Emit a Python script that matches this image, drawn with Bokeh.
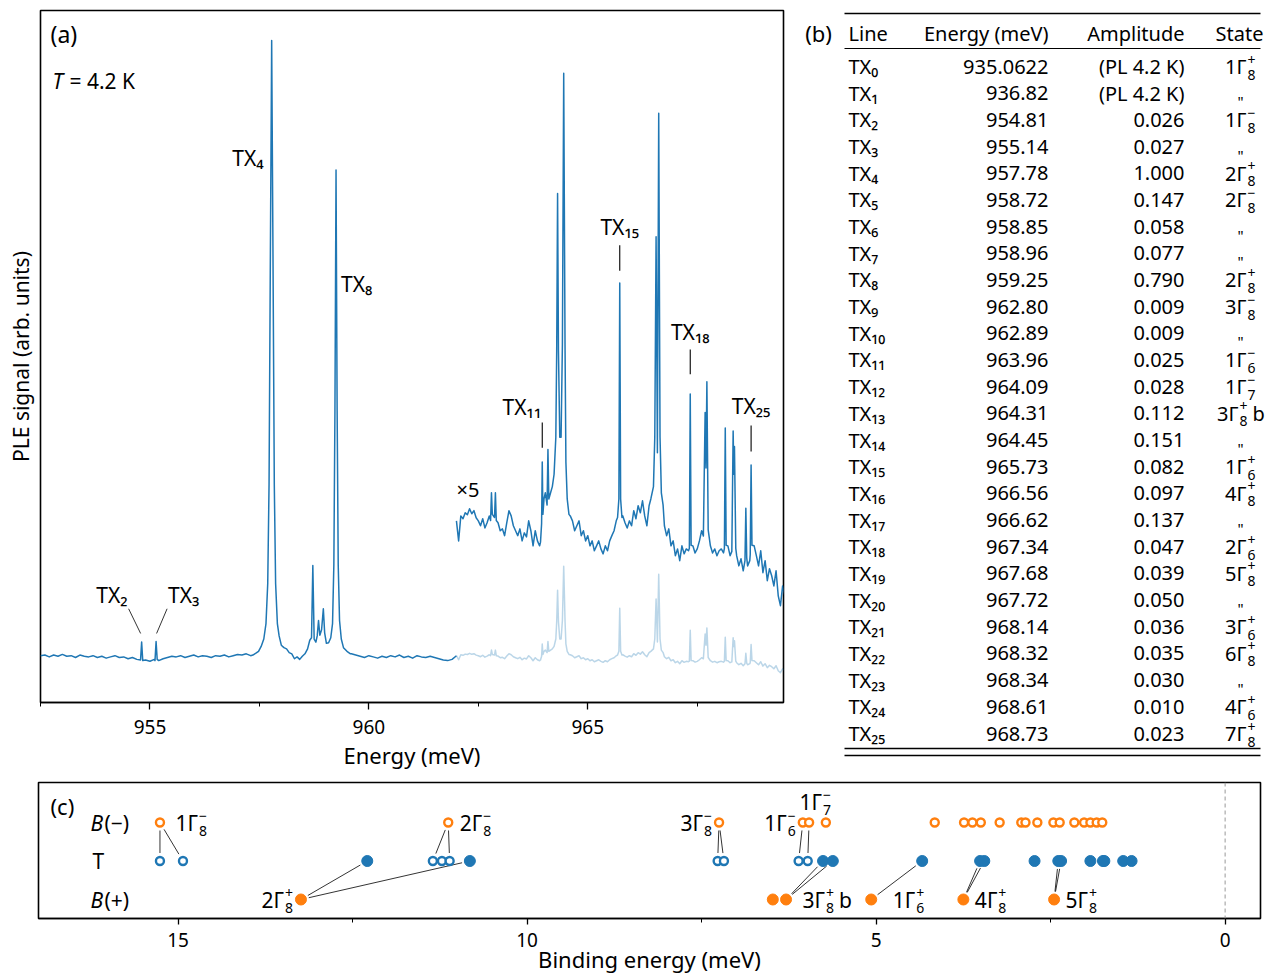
import numpy as np
from bokeh.plotting import figure
from bokeh.models import Range1d, FixedTicker, Span
from bokeh.layouts import column, row
from bokeh.embed import file_html
from bokeh.resources import INLINE
from bokeh.core.properties import value

FONT = "Noto Sans"
BLUE = "#1f77b4"
ORANGE = "#ff7f0e"

# ------------------------------------------------------------------ data
# (b) line table
line_energy_text = ["935.0622", "936.82", "954.81", "955.14", "957.78", "958.72", "958.85",
                    "958.96", "959.25", "962.80", "962.89", "963.96", "964.09", "964.31",
                    "964.45", "965.73", "966.56", "966.62", "967.34", "967.68", "967.72",
                    "968.14", "968.32", "968.34", "968.61", "968.73"]
line_amplitude_text = ["(PL 4.2 K)", "(PL 4.2 K)", "0.026", "0.027", "1.000", "0.147", "0.058",
                       "0.077", "0.790", "0.009", "0.009", "0.025", "0.028", "0.112", "0.151",
                       "0.082", "0.097", "0.137", "0.047", "0.039", "0.050", "0.036", "0.035",
                       "0.030", "0.010", "0.023"]
state_main = ["1Γ", "", "1Γ", "", "2Γ", "2Γ", "", "", "2Γ", "3Γ", "", "1Γ", "1Γ", "3Γ", "",
              "1Γ", "4Γ", "", "2Γ", "5Γ", "", "3Γ", "6Γ", "", "4Γ", "7Γ"]
state_sub = ["8", "", "8", "", "8", "8", "", "", "8", "8", "", "6", "7", "8", "",
             "6", "8", "", "6", "8", "", "6", "8", "", "6", "8"]
state_sup = ["+", "", "−", "", "+", "−", "", "", "+", "−", "", "−", "−", "+", "",
             "+", "+", "", "+", "+", "", "+", "+", "", "+", "+"]
state_suffix = [""] * 13 + ["b"] + [""] * 12
line_energy = [float(s) for s in line_energy_text]

# (a) PLE spectrum, signal in thousandths of the TX4 peak
bg_lo = [3, 4, 1, 4, 2, 5, 2, 3, 0, 4,
         2, 1, 3, 0, 2, -1, 1, 3, 0, 1,
         -2, 0, -3, -5, -4, -6, -3, -5, -2, 0,
         2, 1, 3, 0, 2, 4, 1, 3, 2, 0,
         3, 2, 4, 1, 3, 5, 4, 6, 3, 5,
         8, 10, 12, 14, 14, 12, 9, 6, 2, -2,
         2, 4, 14, 40, 40, 40, 30, 20, 15, 10,
         8, 6, 4, 2, 0, 3, 1, -1, 2, 0,
         3, 1, 4, 0, 2, -1, 3, 1, 0, 2,
         0, -2, -4, -5, -3]                      # 952.5 ... 961.9, step 0.1
bg_hi = [2.9, -3.6, 4.5, 3.6, 5.5, 4.9, 6.8, 5.2, 6.2, 3.9,
         2.9, 1.3, 3.6, 0.6, 2.3, 4.5, 7.8, 6.2, 9.4, 2.3,
         -0.3, 0.3, -1.9, 2.3, 6.2, 4.5, 1.3, -0.3, -1.9, 0.3,
         -3.6, -1.0, -2.3, 2.9, -0.3, -5.2, -0.3, -3.6, -5.2, 0.0,
         10, 10, 12, 12, 14, 20, 30, 30, 30, 30,
         20, 8, 4.5, 2.9, -0.3, 1.3, 2.9, -1.9, -0.3, -3.6,
         -1.9, -5.2, -3.6, -6.8, -5.2, -3.6, -6.2, -7.8, -5.2, -6.8,
         -3.6, -1.9, -0.3, 2.9, 5, 5, 4.5, 2.3, 0.6, 2.9,
         1.3, 6.2, 3.6, 7.8, 5.5, 9.4, 4.5, 1.3, 7.8, 10,
         14, 30, 30, 12, 8, 1.3, -1.9, 0.3, -5.2, -3.6,
         -8.4, -6.2, -10, -5.2, -7.8, -6.2, -6.8, -5, -5.2, -7.5,
         -6.2, -3.6, -0.3, -2, -2, -3.6, -5.2, -7.5, -6.2, -8.4,
         -6.8, -6.2, -7.5, -5, -5.2, -8.4, -7, -7, -8.4, -11.7,
         -9.4, -13.3, -10.7, -11.7, -10, -6, -5.2, -8.4, -11.7, -6.8,
         -13.9, -10, -16.5, -12.6, -14.9, -18.2, -13.3, -21.4, -24.6, -18.2,
         -21.4]                                   # 962.0 ... 969.5, step 0.05
peak_E = [
    [954.785, 954.81, 954.835],
    [955.115, 955.14, 955.165],
    [957.35, 957.42, 957.48, 957.54, 957.60, 957.65, 957.69, 957.72, 957.75, 957.78, 957.81,
     957.84, 957.87, 957.91, 957.95, 958.00, 958.06, 958.12, 958.18, 958.24, 958.30, 958.36, 958.42],
    [958.48, 958.54, 958.60, 958.65, 958.69, 958.72, 958.75, 958.79, 958.82, 958.85, 958.88,
     958.92, 958.96, 958.99, 959.03, 959.08, 959.13, 959.17, 959.20, 959.225, 959.25, 959.275,
     959.30, 959.33, 959.37, 959.42, 959.50, 959.58],
    [962.78, 962.80, 962.82, 962.87, 962.89, 962.91],
    [963.92, 963.945, 963.96, 963.975, 964.00, 964.03, 964.07, 964.09, 964.11, 964.15, 964.19,
     964.23, 964.27, 964.29, 964.31, 964.33, 964.36, 964.39, 964.42, 964.45, 964.48, 964.50,
     964.53, 964.57],
    [965.68, 965.71, 965.73, 965.75, 965.78],
    [966.44, 966.50, 966.53, 966.56, 966.59, 966.62, 966.65, 966.68, 966.72],
    [967.32, 967.34, 967.36],
    [967.64, 967.68, 967.70, 967.72, 967.75],
    [968.12, 968.14, 968.16],
    [968.29, 968.32, 968.335, 968.35, 968.38],
    [968.59, 968.61, 968.63],
    [968.71, 968.73, 968.75],
]
peak_S = [
    [-4, 25, -5],
    [-5, 26, -3],
    [4, 7, 10, 18, 30, 55, 120, 280, 650, 1000, 650, 280, 120, 55, 35, 20, 16, 14, 8, 6, -2, 1, -3],
    [2, 6, 14, 28, 32, 149, 30, 25, 35, 60, 36, 45, 79, 40, 23, 24, 32, 55, 150, 400, 790, 400,
     150, 60, 30, 16, 10, 6],
    [3, 12, 5, 4, 12, 3],
    [-4, 2, 22, 5, 10, 12, 8, 26, 10, 12, 14, 18, 30, 58, 109, 58, 30, 30, 60, 148, 60, 22, 10, 5],
    [4, 10, 80, 10, 4],
    [10, 14, 30, 95, 25, 135, 30, 12, 8],
    [-6, 44, -5],
    [-2, 38, 20, 48, 0],
    [-6, 33, -5],
    [-7, 32, 18, 27, -6],
    [-10, 7, -9],
    [-8, 21, -5],
]
x5_factor = 5
x5_offset = 207
split_energy = 962.0

# (c) binding energies (meV)
be_zero_energy = 970.07
b_minus_be = [15.26, 11.13, 7.25, 6.05, 5.96, 5.72, 4.16, 3.74, 3.62, 3.50, 3.23, 2.92, 2.86,
              2.69, 2.46, 2.37, 2.16, 2.02, 1.93, 1.84, 1.76]
b_plus_be = [13.24, 6.48, 6.29, 5.07, 3.75, 2.45]
minus_links = [(0, 2), (0, 3), (1, 5), (1, 7), (2, 9), (2, 10), (3, 11), (4, 12)]
plus_links = [(0, 4), (0, 8), (2, 13), (2, 14), (3, 15), (4, 16), (4, 17), (5, 19), (5, 20)]
minus_names = [(0, "1Γ", "8", "−", ""), (1, "2Γ", "8", "−", ""), (2, "3Γ", "8", "−", ""),
               (3, "1Γ", "6", "−", ""), (4, "1Γ", "7", "−", "")]
plus_names = [(0, "2Γ", "8", "+", ""), (2, "3Γ", "8", "+", "b"), (3, "1Γ", "6", "+", ""),
              (4, "4Γ", "8", "+", ""), (5, "5Γ", "8", "+", "")]
# label placement (px offset of the Γ-stack anchor from the marker, px raise)
minus_place = [(38, 0), (34, 0), (-16, 0), (-16, 0), (13, 21)]
plus_place = [(-17, 0), (39, 0), (44, 0), (34, 0), (34, 0)]

SUB = str.maketrans("0123456789", "₀₁₂₃₄₅₆₇₈₉")


def tx(i):
    return "TX" + str(i).translate(SUB)


def txt(p, x, y, s, size, align="left", xo=0, style="normal", baseline="middle", level="glyph"):
    p.text(x=[x], y=[y], text=[s], text_font=value(FONT), text_font_size=f"{size}px",
           text_align=align, text_baseline=baseline, x_offset=xo, text_font_style=style,
           text_color="black", level=level)


# ------------------------------------------------------------------ spectrum
E_bg = np.concatenate([952.5 + 0.1 * np.arange(len(bg_lo)),
                       962.0 + 0.05 * np.arange(len(bg_hi))])
S_bg = np.array(bg_lo + bg_hi, dtype=float)
keep = np.ones(len(E_bg), bool)
for g in peak_E:
    keep &= ~((E_bg >= g[0] - 1e-9) & (E_bg <= g[-1] + 1e-9))
E_all = np.concatenate([E_bg[keep]] + [np.array(g, float) for g in peak_E])
S_all = np.concatenate([S_bg[keep]] + [np.array(g, float) for g in peak_S])
o = np.argsort(E_all, kind="stable")
E_all, S_all = E_all[o], S_all[o]
lo = E_all <= split_energy + 1e-9
hi = E_all >= split_energy - 1e-9

# ------------------------------------------------------------------ panel (a)
XA0, XA1 = 952.5, 969.47
YA0, YA1 = -72.9, 1048.6
PXA = 743 / (XA1 - XA0)
pa = figure(width=790, height=772, x_range=Range1d(XA0, XA1), y_range=Range1d(YA0, YA1),
            output_backend="svg", toolbar_location=None,
            min_border_left=40, min_border_right=7, min_border_top=10, min_border_bottom=70)
pa.grid.visible = False
pa.outline_line_color = "black"
pa.outline_line_width = 1.6
pa.outline_line_alpha = 1.0
pa.background_fill_color = "white"
pa.border_fill_color = "white"
xa = pa.xaxis[0]
xa.ticker = FixedTicker(ticks=[955, 960, 965], minor_ticks=[952.5, 957.5, 962.5, 967.5])
xa.axis_label = "Energy (meV)"
ya = pa.yaxis[0]
ya.ticker = FixedTicker(ticks=[])
ya.axis_label = "PLE signal (arb. units)"
for ax in (xa, ya):
    ax.major_label_text_font = FONT
    ax.major_label_text_font_size = "19px"
    ax.axis_label_text_font = FONT
    ax.axis_label_text_font_size = "21px"
    ax.axis_label_text_font_style = "normal"
    ax.major_tick_in = 0
    ax.minor_tick_in = 0
    ax.axis_line_width = 1.6
    ax.major_label_text_color = "black"
    ax.axis_label_text_color = "black"
xa.axis_label_text_font_size = "22px"
xa.major_tick_out = 7
xa.minor_tick_out = 4
xa.major_tick_line_width = 1.3
xa.major_label_standoff = 10
xa.axis_label_standoff = 3
ya.major_tick_out = 0
ya.minor_tick_out = 0
ya.major_label_standoff = 0
ya.axis_label_standoff = 6
ya.axis_line_color = None
ya.major_label_text_font_size = "0px"

pa.line(E_all[hi], S_all[hi], color=BLUE, alpha=0.3, line_width=1.5, line_join="round")
pa.line(E_all[hi], x5_offset + x5_factor * S_all[hi], color=BLUE, line_width=1.5,
        line_join="round")
pa.line(E_all[lo], S_all[lo], color=BLUE, line_width=1.5, line_join="round")

txt(pa, XA0, 1011, "(a)", 23, xo=10)
txt(pa, XA0, 935, "T", 21, xo=12, style="italic")
txt(pa, XA0, 935, "= 4.2 K", 21, xo=29)
txt(pa, split_energy, 272, "×5", 20, xo=0)

peak_label_idx = [2, 3, 4, 8, 11, 15, 18, 25]
peak_label_y = [102, 102, 810, 606, 406, 698, 528, 408]
peak_label_align = ["right", "left", "right", "left", "right", "center", "center", "center"]
peak_label_xo = [-14, 12, -8, 5, -1, 0, 0, 0]
for i, y, al, xo in zip(peak_label_idx, peak_label_y, peak_label_align, peak_label_xo):
    txt(pa, line_energy[i], y, tx(i), 21, align=al, xo=xo)

tick_idx = [11, 15, 18, 25]
tick_top = [381, 668, 499, 376]
tick_bot = [340, 627, 459, 334]
pa.segment(x0=[line_energy[i] for i in tick_idx], y0=tick_top,
           x1=[line_energy[i] for i in tick_idx], y1=tick_bot, color="black", line_width=1.1)
pa.segment(x0=[line_energy[2] - 13 / PXA, line_energy[3] + 11 / PXA],
           y0=[79, 79],
           x1=[line_energy[2] - 1 / PXA, line_energy[3] + 0.5 / PXA],
           y1=[39, 39], color="black", line_width=0.8)

# ------------------------------------------------------------------ panel (b) table
# frame of this figure is aligned with panel (a): page y 10..702; data coords = page px
pb = figure(width=490, height=772, x_range=Range1d(790, 1280), y_range=Range1d(702, 10),
            output_backend="svg", toolbar_location=None, x_axis_location=None,
            y_axis_location=None, min_border_left=0, min_border_right=0,
            min_border_top=10, min_border_bottom=70)
pb.grid.visible = False
pb.outline_line_color = None
pb.background_fill_color = "white"
pb.border_fill_color = "white"

OV = "overlay"
ROW0, PITCH = 66.0, 26.68
row_y = [ROW0 + k * PITCH for k in range(26)]
FS = 20
X_LINE, X_EN, X_AMP, X_ST = 848, 1048, 1184, 1246
txt(pb, 818, 32, "(b)", 22, align="center", level=OV)
txt(pb, X_LINE, 33, "Line", FS, level=OV)
txt(pb, X_EN, 33, "Energy (meV)", FS, align="right", level=OV)
txt(pb, X_AMP, 33, "Amplitude", FS, align="right", level=OV)
txt(pb, 1263, 33, "State", FS, align="right", level=OV)
pb.segment(x0=[844] * 4, y0=[13, 48, 748, 755], x1=[1260] * 4, y1=[13, 48, 748, 755],
           color="black", line_width=[1.5, 1.0, 1.3, 1.3], level=OV)
pb.text(x=[X_LINE] * 26, y=row_y, text=[tx(k) for k in range(26)], text_font=value(FONT),
        text_font_size=f"{FS}px", text_baseline="middle", text_align="left", level=OV)
pb.text(x=[X_EN] * 26, y=row_y, text=line_energy_text, text_font=value(FONT),
        text_font_size=f"{FS}px", text_baseline="middle", text_align="right", level=OV)
pb.text(x=[X_AMP] * 26, y=row_y, text=line_amplitude_text, text_font=value(FONT),
        text_font_size=f"{FS}px", text_baseline="middle", text_align="right", level=OV)
for k in range(26):
    y = row_y[k]
    if state_main[k]:
        anchor = X_ST - 8 if state_suffix[k] else X_ST
        txt(pb, anchor, y, state_main[k], FS, align="right", level=OV)
        txt(pb, anchor + 1, y - 7, state_sup[k], 14, level=OV)
        txt(pb, anchor + 1, y + 8, state_sub[k], 14, level=OV)
        if state_suffix[k]:
            txt(pb, anchor + 14, y, state_suffix[k], FS, level=OV)
    else:
        txt(pb, X_ST - 6, y + 8, '"', 15, align="center", level=OV)

# ------------------------------------------------------------------ panel (c)
XC0, XC1 = 17.0, -0.507
PYC = 38.5
YC0, YC1 = -19 / PYC, 117 / PYC
PXC = 1222 / (XC0 - XC1)
pc = figure(width=1280, height=204, x_range=Range1d(XC0, XC1), y_range=Range1d(YC0, YC1),
            output_backend="svg", toolbar_location=None, y_axis_location=None,
            min_border_left=38, min_border_right=20, min_border_top=10, min_border_bottom=58)
pc.grid.visible = False
pc.outline_line_color = "black"
pc.outline_line_width = 1.6
pc.outline_line_alpha = 1.0
pc.background_fill_color = "white"
pc.border_fill_color = "white"
xc = pc.xaxis[0]
xc.ticker = FixedTicker(ticks=[15, 10, 5, 0], minor_ticks=[12.5, 7.5, 2.5])
xc.axis_label = "Binding energy (meV)"
xc.major_label_text_font = FONT
xc.major_label_text_font_size = "19px"
xc.axis_label_text_font = FONT
xc.axis_label_text_font_size = "22px"
xc.axis_label_text_font_style = "normal"
xc.major_tick_in = 0
xc.minor_tick_in = 0
xc.major_tick_out = 6
xc.minor_tick_out = 4
xc.major_tick_line_width = 1.3
xc.axis_line_width = 1.6
xc.major_label_standoff = 8
xc.axis_label_standoff = -6
xc.major_label_text_color = "black"
xc.axis_label_text_color = "black"

pc.add_layout(Span(location=0, dimension="height", line_color="#999999", line_dash="4 3",
                   line_width=1))

ROW_M, ROW_T, ROW_P = 2, 1, 0
t_be = [be_zero_energy - line_energy[k] for k in range(2, 26)]
parity = []
cur = ""
for s in state_sup:
    cur = s or cur
    parity.append(cur)
t_par = parity[2:]


def trimmed(xa_, ya_, xb, yb, gap=8.0):
    dx = (xb - xa_) * PXC
    dy = (yb - ya_) * PYC
    L = float(np.hypot(dx, dy))
    t = gap / L
    return (xa_ + t * (xb - xa_), ya_ + t * (yb - ya_),
            xb - t * (xb - xa_), yb - t * (yb - ya_))


segs = []
for bi, ti in minus_links:
    segs.append(trimmed(b_minus_be[bi], ROW_M, be_zero_energy - line_energy[ti], ROW_T))
for bi, ti in plus_links:
    segs.append(trimmed(b_plus_be[bi], ROW_P, be_zero_energy - line_energy[ti], ROW_T))
pc.segment(x0=[s[0] for s in segs], y0=[s[1] for s in segs], x1=[s[2] for s in segs],
           y1=[s[3] for s in segs], color="black", line_width=0.8)

tf = [b for b, p in zip(t_be, t_par) if p == "+"]
to = [b for b, p in zip(t_be, t_par) if p != "+"]
pc.scatter(x=tf, y=[ROW_T] * len(tf), size=11, color=BLUE)
pc.scatter(x=to, y=[ROW_T] * len(to), size=8, fill_color="white", line_color=BLUE,
           line_width=2.4)
pc.scatter(x=b_minus_be, y=[ROW_M] * len(b_minus_be), size=8, fill_color="white",
           line_color=ORANGE, line_width=2.4)
pc.scatter(x=b_plus_be, y=[ROW_P] * len(b_plus_be), size=11, color=ORANGE)


def gamma(p, x, y, main, sub, sup, anchor, suffix=""):
    txt(p, x, y, main, 21, align="right", xo=anchor)
    txt(p, x, y + 7 / PYC, sup, 14, xo=anchor + 1)
    txt(p, x, y - 8 / PYC, sub, 14, xo=anchor + 1)
    if suffix:
        txt(p, x, y, suffix, 21, xo=anchor + 14)


for (bi, m, sb, sp, sf), (off, rise) in zip(minus_names, minus_place):
    gamma(pc, b_minus_be[bi], ROW_M + rise / PYC, m, sb, sp, off, sf)
for (bi, m, sb, sp, sf), (off, rise) in zip(plus_names, plus_place):
    gamma(pc, b_plus_be[bi], ROW_P + rise / PYC, m, sb, sp, off, sf)

txt(pc, XC0, 2.44, "(c)", 22, xo=12)
txt(pc, XC0, ROW_M, "B", 21, xo=52, style="italic")
txt(pc, XC0, ROW_M, "(−)", 21, xo=66)
txt(pc, XC0, ROW_T, "T", 21, xo=54)
txt(pc, XC0, ROW_P, "B", 21, xo=52, style="italic")
txt(pc, XC0, ROW_P, "(+)", 21, xo=66)

layout = column(row(pa, pb), pc)
open("out.html", "w").write(file_html(layout, INLINE, "PLE spectrum"))
